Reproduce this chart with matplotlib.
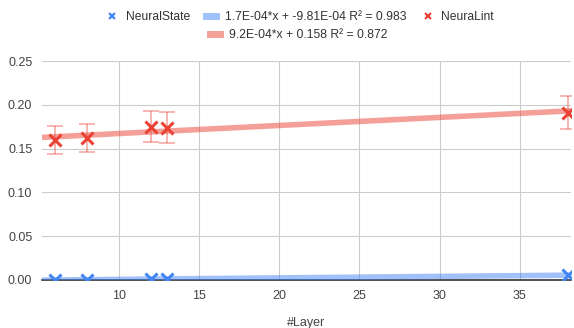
import numpy as np
import matplotlib.pyplot as plt
from matplotlib.lines import Line2D

# data
layers = [6, 8, 12, 13, 38]
neuralstate = [0.0003, 0.0003, 0.0010, 0.0011, 0.0055]
neuralint = [0.160, 0.162, 0.175, 0.174, 0.191]

# trendline coefficients (slope, intercept) from the legend
state_fit = (1.7e-04, -9.81e-04)
lint_fit = (9.2e-04, 0.158)
state_label = "1.7E-04*x + -9.81E-04 R² = 0.983"
lint_label = "9.2E-04*x + 0.158 R² = 0.872"

blue = "#4285F4"
red = "#EA4335"
plt.rcParams['font.family'] = ['Liberation Sans', 'DejaVu Sans']

fig = plt.figure(figsize=(5.74, 3.28), dpi=100)
ax = fig.add_axes([42 / 574, 1 - 280 / 328, 529 / 574, 219 / 328])

xmin, xmax = 5.2, 38.2
xs = np.array([xmin, xmax])

# trendlines
ax.plot(xs, state_fit[0] * xs + state_fit[1], color=blue, lw=4, alpha=0.5,
        solid_capstyle='butt', zorder=2)
ax.plot(xs, lint_fit[0] * xs + lint_fit[1], color=red, lw=4, alpha=0.5,
        solid_capstyle='butt', zorder=2)

# error bars (10%)
lint_err = [v * 0.1 for v in neuralint]
ax.errorbar(layers, neuralint, yerr=lint_err, fmt='none', ecolor=red, alpha=0.45,
            elinewidth=1.2, capsize=5.5, capthick=1.2, zorder=3)

ax.plot(layers, neuralstate, 'x', color=blue, ms=8, mew=2.2, zorder=4)
ax.plot(layers, neuralint, 'x', color=red, ms=8, mew=2.2, zorder=4)

ax.set_xlim(xmin, xmax)
ax.set_ylim(0, 0.25)
ax.set_xticks([10, 15, 20, 25, 30, 35])
ax.set_yticks([0, 0.05, 0.10, 0.15, 0.20, 0.25])
ax.set_yticklabels([f"{v:.2f}" for v in [0, 0.05, 0.10, 0.15, 0.20, 0.25]])
ax.grid(True, color="#cccccc", lw=0.8)
ax.set_axisbelow(True)
for s in ['top', 'right', 'left']:
    ax.spines[s].set_visible(False)
ax.spines['bottom'].set_color('#333333')
ax.spines['bottom'].set_linewidth(1.2)
ax.spines['bottom'].set_zorder(1)
ax.tick_params(length=0, labelsize=9, colors='#444444', pad=7)
ax.set_xlabel("#Layer", fontsize=9, color='#444444', labelpad=11)

# legend, two rows
h1 = [Line2D([], [], ls='none', marker='x', color=blue, ms=5, mew=1.5),
      Line2D([], [], color=blue, lw=5, alpha=0.5),
      Line2D([], [], ls='none', marker='x', color=red, ms=5, mew=1.5)]
leg1 = fig.legend(h1, ["NeuralState", state_label, "NeuraLint"], ncol=3,
                  loc='center', bbox_to_anchor=(0.523, 1 - 17 / 328), frameon=False,
                  fontsize=8.7, handlelength=0.9, columnspacing=1.3, handletextpad=0.7)
h2 = [Line2D([], [], color=red, lw=5, alpha=0.5)]
leg2 = fig.legend(h2, [lint_label], loc='center', bbox_to_anchor=(0.52, 1 - 35 / 328),
                  frameon=False, fontsize=8.7, handlelength=0.9, handletextpad=0.7)
for lg in (leg1, leg2):
    for t in lg.get_texts():
        t.set_color('#333333')

fig.savefig("out.png", dpi=100)
